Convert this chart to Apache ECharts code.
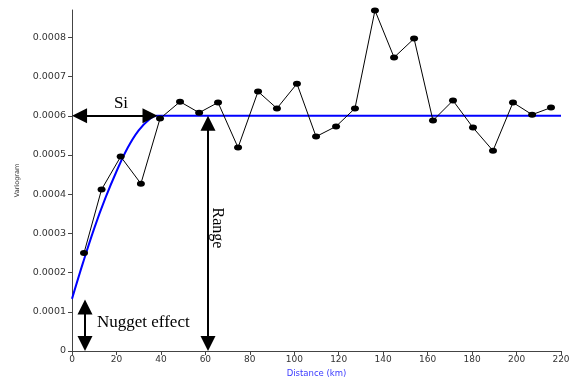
<!DOCTYPE html>
<html>
<head>
<meta charset="utf-8">
<script src="https://cdn.jsdelivr.net/npm/echarts@6/dist/echarts.min.js"></script>
<style>
  html, body { margin: 0; padding: 0; background: #fff; }
  #chart { width: 571px; height: 380px; }
</style>
</head>
<body>
<div id="chart"></div>
<script>
// experimental variogram (lag distance in km, semivariance)
var lagKm = [5.4, 13.3, 21.9, 31.0, 39.6, 48.6, 57.2, 65.7, 74.7, 83.7, 92.2, 101.2, 109.8,
             118.8, 127.3, 136.3, 144.9, 153.9, 162.4, 171.4, 180.4, 189.4, 198.4, 207.0, 215.5];
var gammaObs = [0.000250, 0.000412, 0.000496, 0.000427, 0.000593, 0.000636, 0.000608, 0.000634,
                0.000519, 0.000662, 0.000619, 0.000682, 0.000547, 0.000573, 0.000619, 0.000869,
                0.000749, 0.000797, 0.000588, 0.000639, 0.000570, 0.000511, 0.000634, 0.000603, 0.000621];

// fitted model curve
var modelKm = [0, 5, 10, 15, 20, 25, 30, 35, 38, 220];
var gammaModel = [0.000133, 0.000226, 0.000313, 0.000390, 0.000458, 0.000518, 0.000563, 0.000592, 0.000600, 0.000600];

var yTicks = [0, 0.0001, 0.0002, 0.0003, 0.0004, 0.0005, 0.0006, 0.0007, 0.0008];

// annotation arrows [x1, y1, x2, y2] in data units (arrowheads are centred on the ends)
var sillArrow = [3.4, 0.0006, 35.1, 0.0006];
var rangeArrow = [61.2, 0.000581, 61.2, 0.000019];
var nuggetArrow = [5.85, 0.000112, 5.85, 0.000019];

function pairs(xs, ys) {
    return xs.map(function (x, i) { return [x, ys[i]]; });
}

function arrow(a) {
    return [{ coord: [a[0], a[1]] }, { coord: [a[2], a[3]] }];
}

var myChart = echarts.init(document.getElementById('chart'));
var axisColor = '#444';
var serif = '"Liberation Serif", "DejaVu Serif", serif';

myChart.setOption({
    animation: false,
    grid: { left: 72, right: 10, top: 10, bottom: 29, outerBoundsMode: 'none' },
    xAxis: {
        type: 'value',
        min: 0,
        max: 220,
        interval: 20,
        name: 'Distance (km)',
        nameLocation: 'middle',
        nameGap: 18,
        nameTextStyle: { color: '#3b3bff', fontFamily: 'DejaVu Sans', fontSize: 8.5 },
        axisLine: { lineStyle: { color: axisColor, width: 1 } },
        axisTick: { length: 4, lineStyle: { color: axisColor } },
        axisLabel: { color: '#333', fontFamily: 'DejaVu Sans', fontSize: 9, margin: 4 },
        splitLine: { show: false }
    },
    yAxis: {
        type: 'value',
        min: 0,
        max: 0.00087,
        interval: 0.0001,
        name: 'Variogram',
        nameLocation: 'middle',
        nameGap: 51,
        nameTextStyle: { color: '#333', fontFamily: 'DejaVu Sans', fontSize: 6.5 },
        axisLine: { show: true, lineStyle: { color: axisColor, width: 1 } },
        axisTick: { show: true, length: 4, customValues: yTicks, lineStyle: { color: axisColor } },
        axisLabel: {
            color: '#333', fontFamily: 'DejaVu Sans', fontSize: 9.5, margin: 6,
            customValues: yTicks,
            formatter: function (v) { return v === 0 ? '0' : v.toFixed(4); }
        },
        splitLine: { show: false }
    },
    series: [
        {
            name: 'model',
            type: 'line',
            data: pairs(modelKm, gammaModel),
            smooth: 0.4,
            showSymbol: false,
            lineStyle: { color: '#0000ff', width: 2 },
            z: 2
        },
        {
            name: 'experimental',
            type: 'line',
            data: pairs(lagKm, gammaObs),
            symbol: 'circle',
            symbolSize: [8, 6],
            itemStyle: { color: '#000' },
            lineStyle: { color: '#000', width: 1 },
            z: 3,
            markLine: {
                silent: true,
                symbol: ['triangle', 'triangle'],
                symbolSize: [15, 15],
                lineStyle: { color: '#000', width: 2, type: 'solid' },
                label: { show: false },
                data: [arrow(sillArrow), arrow(rangeArrow), arrow(nuggetArrow)]
            }
        }
    ],
    graphic: [
        { type: 'text', x: 121, y: 104, style: { text: 'Si', font: '17px ' + serif, fill: '#000', align: 'center', verticalAlign: 'middle' } },
        { type: 'text', x: 217, y: 228, rotation: -Math.PI / 2, style: { text: 'Range', font: '16px ' + serif, fill: '#000', align: 'center', verticalAlign: 'middle' } },
        { type: 'text', x: 97, y: 323, style: { text: 'Nugget effect', font: '17px ' + serif, fill: '#000', align: 'left', verticalAlign: 'middle' } }
    ]
});
</script>
</body>
</html>
